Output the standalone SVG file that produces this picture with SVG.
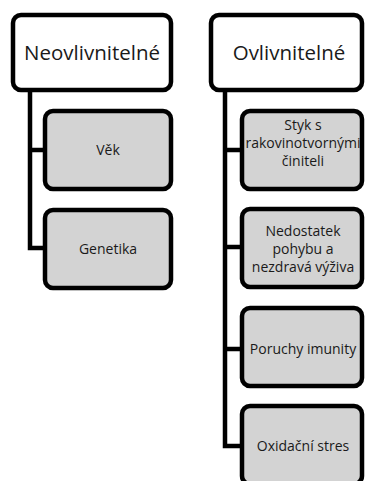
<svg xmlns="http://www.w3.org/2000/svg" width="365" height="481" viewBox="0 0 365 481">
<style>
.top{fill:#ffffff;stroke:#000;stroke-width:4.5}
.child{fill:#d3d3d3;stroke:#000;stroke-width:4.5}
.conn{fill:none;stroke:#000;stroke-width:4.5;stroke-linejoin:miter}
text{font-family:"Open Sans","DejaVu Sans",sans-serif;fill:#1a1a1a;text-anchor:middle}
.t1{font-size:20.5px}
.t2{font-size:14px}
</style>
<rect width="365" height="481" fill="#fff"/>
<g id="connectors">
<path class="conn" d="M30,90 V248 H45 M30,150 H45"/>
<path class="conn" d="M225,90 V446 H242 M225,150 H242 M225,247 H242 M225,349 H242"/>
</g>
<g id="n-neovlivnitelne">
<rect class="top" x="13" y="15" width="158" height="75" rx="8"/>
<text class="t1" x="92" y="60">Neovlivnitelné</text>
</g>
<g id="n-vek">
<rect class="child" x="45" y="111" width="126" height="78" rx="8"/>
<text class="t2" x="108" y="155">Věk</text>
</g>
<g id="n-genetika">
<rect class="child" x="45" y="210" width="126" height="78" rx="8"/>
<text class="t2" x="108" y="254">Genetika</text>
</g>
<g id="n-ovlivnitelne">
<rect class="top" x="211" y="15" width="151" height="75" rx="8"/>
<text class="t1" x="289" y="60">Ovlivnitelné</text>
</g>
<g id="n-styk">
<rect class="child" x="242" y="111" width="120" height="78" rx="8"/>
<text class="t2" x="303" y="130">Styk s</text>
<text class="t2" x="303" y="148">rakovinotvornými</text>
<text class="t2" x="303" y="166">činiteli</text>
</g>
<g id="n-nedostatek">
<rect class="child" x="242" y="209" width="120" height="78" rx="8"/>
<text class="t2" x="303" y="236">Nedostatek</text>
<text class="t2" x="303" y="254">pohybu a</text>
<text class="t2" x="303" y="272">nezdravá výživa</text>
</g>
<g id="n-poruchy">
<rect class="child" x="242" y="308" width="120" height="78" rx="8"/>
<text class="t2" x="303" y="354">Poruchy imunity</text>
</g>
<g id="n-oxidacni">
<rect class="child" x="242" y="406" width="120" height="78" rx="8"/>
<text class="t2" x="303" y="451">Oxidační stres</text>
</g>
</svg>
